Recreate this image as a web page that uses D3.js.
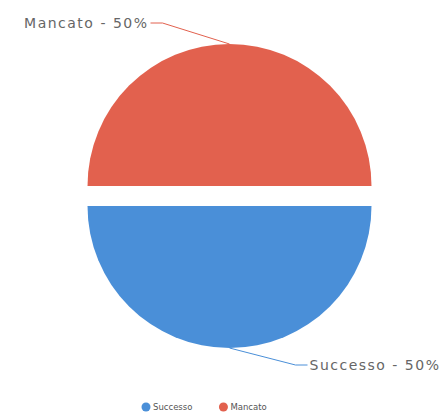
<!DOCTYPE html>
<html>
<head>
<meta charset="utf-8">
<script src="https://cdn.jsdelivr.net/npm/d3@7"></script>
<style>
  body { margin: 0; background: #fff; }
  text { font-family: "DejaVu Sans", sans-serif; }
</style>
</head>
<body>
<div id="chart"></div>
<script>
const categories = ["Successo", "Mancato"];
const values = [50, 50];
const colours = ["#4a8fd8", "#e2614e"];

const width = 442;
const height = 414;
const cx = 229.5, cy = 196;
const radius = 142;
const explode = 10;

const svg = d3.select("#chart")
    .append("svg")
    .attr("width", width)
    .attr("height", height);

const data = categories.map((c, i) => ({name: c, value: values[i], colour: colours[i]}));
const total = d3.sum(values);

// start at 3 o'clock so Successo fills the bottom half
const pie = d3.pie()
    .sort(null)
    .value(d => d.value)
    .startAngle(Math.PI / 2)
    .endAngle(Math.PI / 2 + 2 * Math.PI);

const arc = d3.arc().innerRadius(0).outerRadius(radius);

const arcs = pie(data);

const g = svg.append("g").attr("transform", `translate(${cx},${cy})`);

// label placements (relative to pie centre)
const labelPos = {
    "Successo": {x: 80, y: 174, anchor: "start"},
    "Mancato": {x: -81, y: -168, anchor: "end"}
};

arcs.forEach(a => {
    const mid = (a.startAngle + a.endAngle) / 2;
    const dx = Math.sin(mid) * explode;
    const dy = -Math.cos(mid) * explode;
    g.append("path")
        .attr("d", arc(a))
        .attr("transform", `translate(${dx},${dy})`)
        .attr("fill", a.data.colour);

    // connector from slice edge to label
    const ex = Math.sin(mid) * radius + dx;
    const ey = -Math.cos(mid) * radius + dy;
    const lp = labelPos[a.data.name];
    const side = lp.anchor === "start" ? -1 : 1;
    g.append("path")
        .attr("d", d3.line()([
            [lp.x + side * 2, lp.y - 5],
            [lp.x + side * 14, lp.y - 5],
            [ex, ey]
        ]))
        .attr("fill", "none")
        .attr("stroke", a.data.colour)
        .attr("stroke-width", 1);

    const pct = Math.round(a.data.value / total * 100);
    g.append("text")
        .attr("x", lp.x)
        .attr("y", lp.y)
        .attr("text-anchor", lp.anchor)
        .attr("font-size", "14px")
        .attr("letter-spacing", "1.5px")
        .attr("fill", "#666")
        .text(`${a.data.name} - ${pct}%`);
});

// legend
const legend = svg.append("g").attr("transform", `translate(0,${407})`);
let lx = 146;
categories.forEach((c, i) => {
    legend.append("circle")
        .attr("cx", lx)
        .attr("cy", 0)
        .attr("r", 4.5)
        .attr("fill", colours[i]);
    const t = legend.append("text")
        .attr("x", lx + 7)
        .attr("y", 3)
        .attr("font-size", "8.5px")
        .attr("fill", "#555")
        .text(c);
    lx += 7 + t.node().getComputedTextLength() + 31;
});
</script>
</body>
</html>
